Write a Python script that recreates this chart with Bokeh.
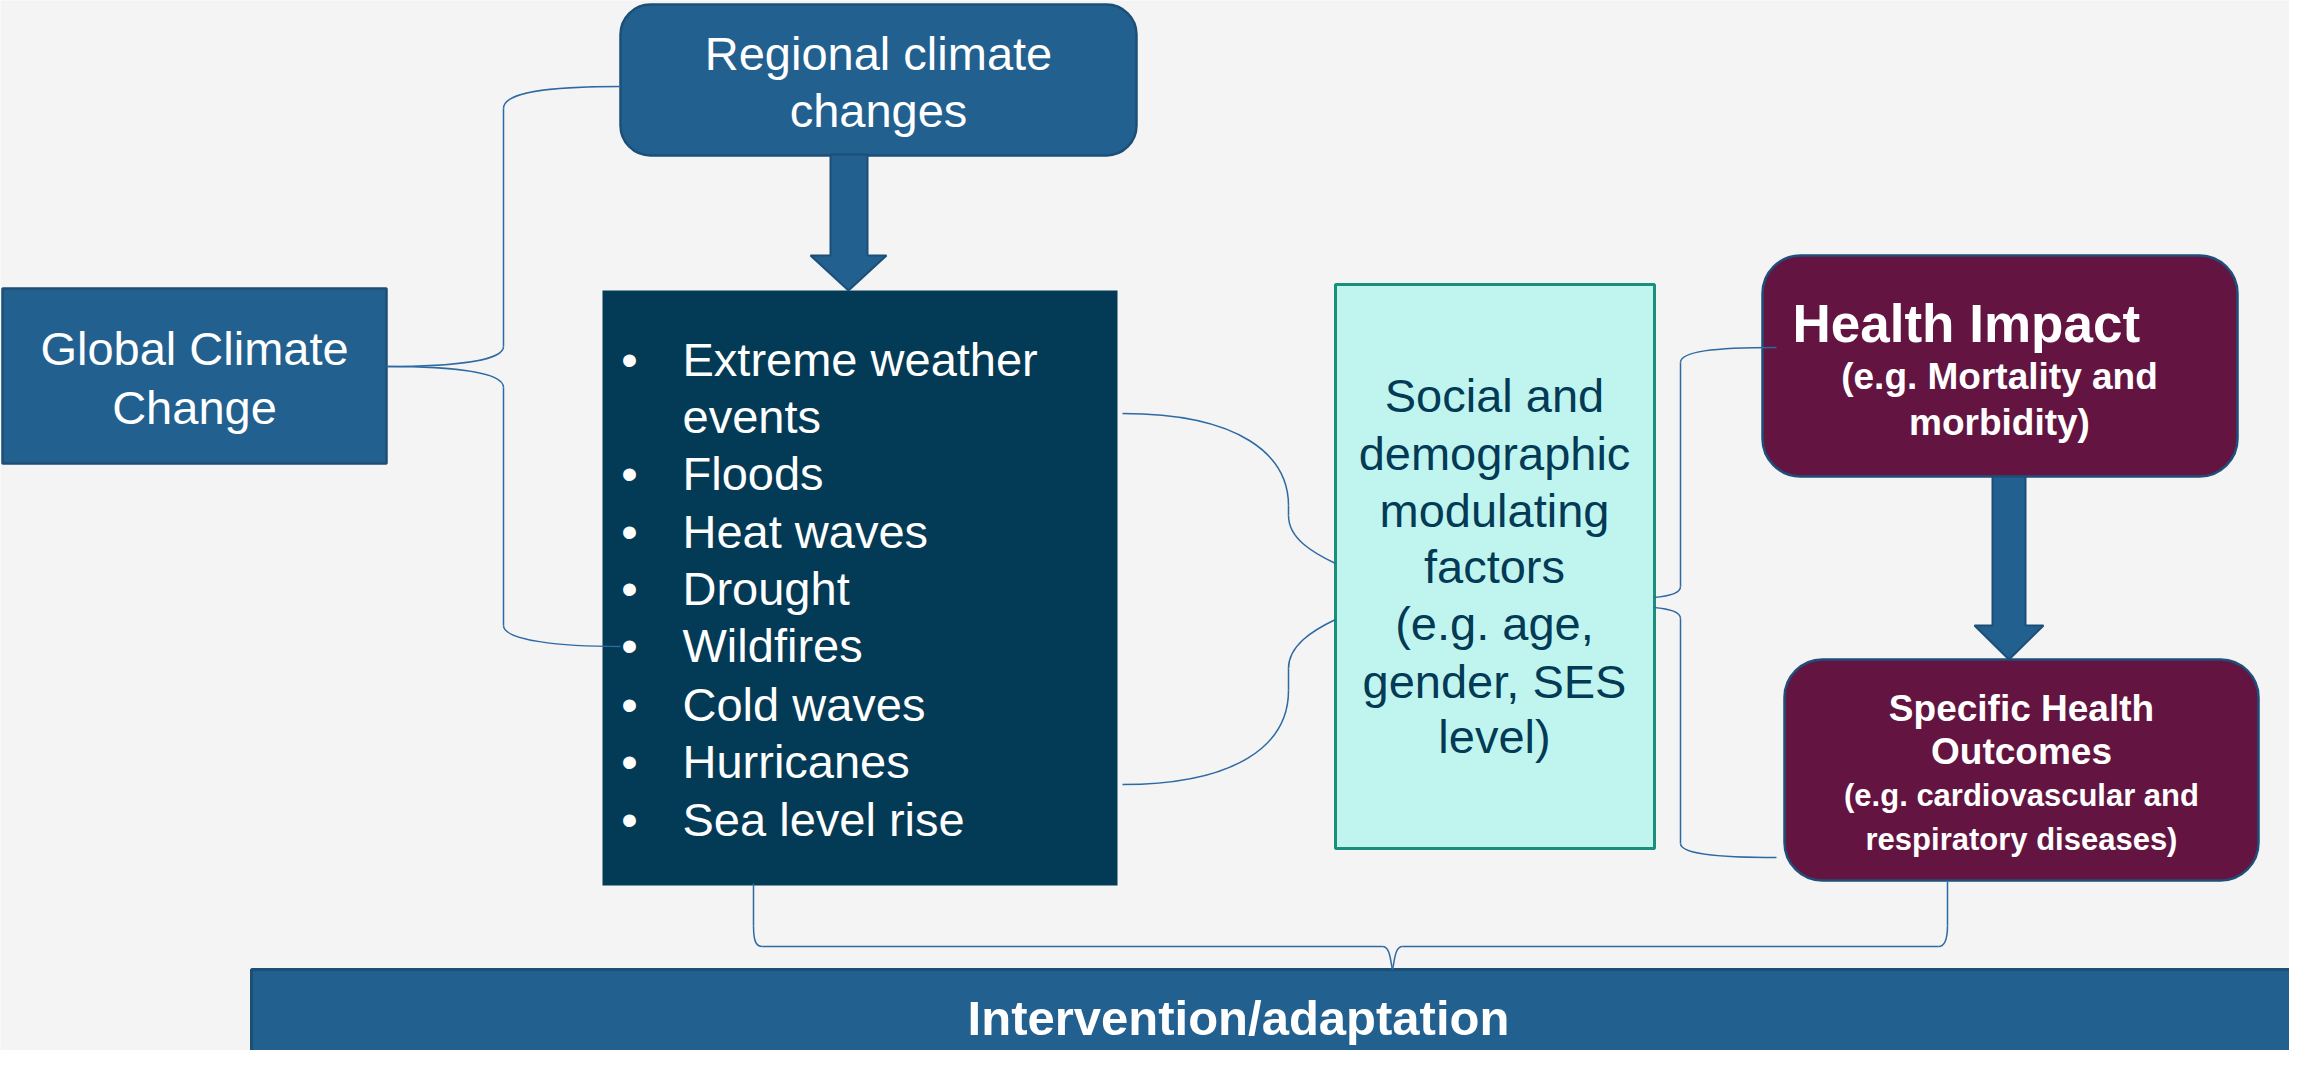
from bokeh.plotting import figure
from bokeh.models import Range1d
from bokeh.core.properties import value
from bokeh.embed import file_html
from bokeh.resources import INLINE

# ---------------- content ----------------
regional_lines = ["Regional climate", "changes"]
global_lines = ["Global Climate", "Change"]
event_items = ["Extreme weather", "events", "Floods", "Heat waves", "Drought",
               "Wildfires", "Cold waves", "Hurricanes", "Sea level rise"]
event_bullets = [True, False, True, True, True, True, True, True, True]
social_lines = ["Social and", "demographic", "modulating", "factors",
                "(e.g. age,", "gender, SES", "level)"]
health_title = "Health Impact"
health_sub = ["(e.g. Mortality and", "morbidity)"]
specific_title = ["Specific Health", "Outcomes"]
specific_sub = ["(e.g. cardiovascular and", "respiratory diseases)"]
intervention_text = "Intervention/adaptation"

# ---------------- layout (reference pixel coordinates) ----------------
W, H = 2289, 1050
BG = "#f4f4f4"
BLUE, BLUE_EDGE = "#22608f", "#1c4f78"
NAVY = "#033a56"
CYAN, CYAN_EDGE = "#c0f5ef", "#1a8f7c"
MAROON, MAROON_EDGE = "#641441", "#1f4e79"
CONN = "#2d6aa3"
FONT = value("Liberation Sans")

p = figure(width=W, height=H, output_backend="svg", toolbar_location=None,
           x_range=Range1d(0, W), y_range=Range1d(H, 0),
           min_border=0)
p.axis.visible = False
p.grid.visible = False
p.outline_line_color = None
p.background_fill_color = BG
p.border_fill_color = BG

# boxes: left, right, top, bottom, radius, fill, edge, edge width
boxes = [
    (620, 1136, 4, 155, 30, BLUE, BLUE_EDGE, 2.5),
    (2, 386, 288, 463, 0, BLUE, BLUE_EDGE, 2.5),
    (602, 1117, 290, 885, 0, NAVY, None, 0),
    (1335, 1654, 284, 848, 0, CYAN, CYAN_EDGE, 3),
    (1762, 2237, 255, 476, 38, MAROON, MAROON_EDGE, 2.5),
    (1784, 2258, 659, 880, 38, MAROON, MAROON_EDGE, 2.5),
    (251, 2320, 969, 1075, 0, BLUE, BLUE_EDGE, 3),
]
for l, r, t, b, rad, fc, lc, lw in boxes:
    kw = dict(left=l, right=r, top=t, bottom=b, fill_color=fc,
              line_color=lc, line_width=lw)
    if rad:
        kw["border_radius"] = rad
    p.quad(**kw)

# block arrows
arrows = [
    # shaft left, shaft right, shaft top, head top, head left, head right, tip y
    (830, 867, 154, 255, 810, 886, 290),
    (1992, 2025, 476, 625, 1974, 2043, 659),
]
for sl, sr, st, ht, hl, hr, ty in arrows:
    cx = (hl + hr) / 2
    p.patch([sl, sr, sr, hr, cx, hl, sl], [st, st, ht, ht, ty, ht, ht],
            fill_color=BLUE, line_color=BLUE_EDGE, line_width=2)

# connectors (curly braces): bezier segments and straight segments
beziers = [
    # x0, y0, x1, y1, cx0, cy0, cx1, cy1
    (620, 86, 503, 108, 545, 86, 503, 92),
    (503, 346, 386, 366, 503, 360, 455, 366),
    (386, 366, 503, 387, 455, 366, 503, 372),
    (503, 625, 620, 646, 503, 640, 560, 646),
    (1122, 413, 1288, 505, 1240, 413, 1288, 455),
    (1288, 515, 1335, 563, 1288, 538, 1312, 552),
    (1335, 619, 1288, 668, 1312, 630, 1288, 645),
    (1288, 690, 1122, 784, 1288, 745, 1235, 784),
    (1776, 347, 1680, 362, 1712, 347, 1680, 351),
    (1680, 586, 1653, 597, 1680, 593, 1666, 596),
    (1653, 607, 1680, 618, 1666, 608, 1680, 611),
    (1680, 843, 1776, 857, 1680, 855, 1730, 857),
    (753, 925, 762, 946, 753, 942, 756, 946),
    (1382, 946, 1392, 969, 1390, 946, 1390, 962),
    (1392, 969, 1402, 946, 1394, 962, 1394, 946),
    (1938, 946, 1947, 925, 1944, 946, 1947, 940),
]
p.bezier(x0=[b[0] for b in beziers], y0=[b[1] for b in beziers],
         x1=[b[2] for b in beziers], y1=[b[3] for b in beziers],
         cx0=[b[4] for b in beziers], cy0=[b[5] for b in beziers],
         cx1=[b[6] for b in beziers], cy1=[b[7] for b in beziers],
         line_color=CONN, line_width=1.5)
segments = [
    (503, 108, 503, 346), (503, 387, 503, 625),
    (1288, 505, 1288, 515), (1288, 668, 1288, 690),
    (1680, 362, 1680, 586), (1680, 618, 1680, 843),
    (753, 883, 753, 925), (762, 946, 1382, 946), (1402, 946, 1938, 946),
    (1947, 925, 1947, 880),
]
p.segment(x0=[s[0] for s in segments], y0=[s[1] for s in segments],
          x1=[s[2] for s in segments], y1=[s[3] for s in segments],
          line_color=CONN, line_width=1.5)


def txt(xs, ys, texts, size, color="white", align="center", bold=False):
    p.text(x=xs, y=ys, text=texts, text_font=FONT, text_font_size=size,
           text_color=color, text_align=align, text_baseline="middle",
           text_font_style="bold" if bold else "normal")


txt([878, 878], [53, 110], regional_lines, "47px")
txt([194, 194], [348, 407], global_lines, "47px")

event_y = [359, 416, 473, 531, 588, 645, 704, 761, 819]
txt([682] * len(event_items), event_y, event_items, "47px", align="left")
by = [y for y, b in zip(event_y, event_bullets) if b]
txt([629] * len(by), by, ["•"] * len(by), "47px")

social_y = [395, 453, 510, 566, 623, 681, 736]
txt([1494] * len(social_lines), social_y, social_lines, "47px", color=NAVY)

txt([1792], [323], [health_title], "53px", align="left", bold=True)
txt([1999, 1999], [376, 422], health_sub, "37px", bold=True)

txt([2021, 2021], [708, 751], specific_title, "37px", bold=True)
txt([2021, 2021], [795, 839], specific_sub, "31px", bold=True)

txt([1238], [1017], [intervention_text], "49px", bold=True)

html = file_html(p, INLINE)
html = html.replace("<body>", '<body style="background:#f4f4f4">', 1)
open("out.html", "w").write(html)
